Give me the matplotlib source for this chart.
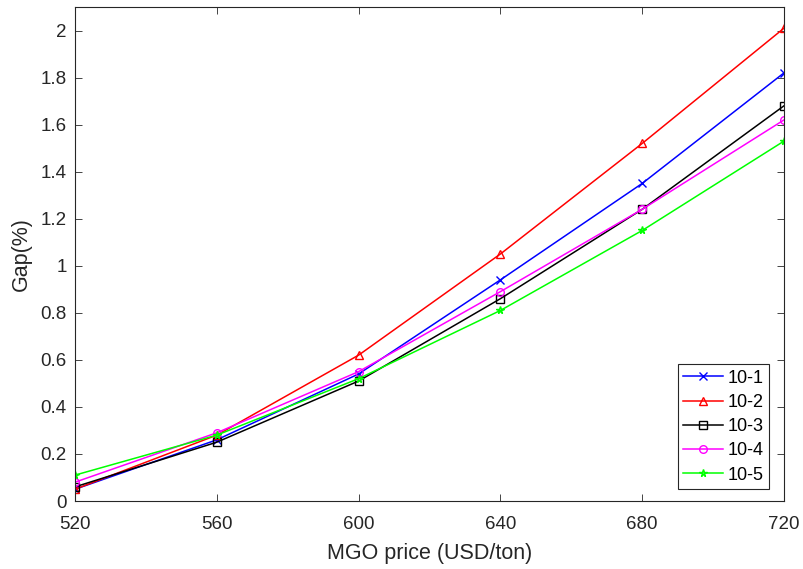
import numpy as np
import matplotlib
matplotlib.use("Agg")
import matplotlib.pyplot as plt

plt.rcParams['font.family'] = ['Liberation Sans', 'DejaVu Sans']

# data
mgo_price = [520, 560, 600, 640, 680, 720]
gap_10_1 = [0.05, 0.26, 0.54, 0.94, 1.35, 1.82]
gap_10_2 = [0.05, 0.28, 0.62, 1.05, 1.52, 2.01]
gap_10_3 = [0.06, 0.25, 0.51, 0.86, 1.24, 1.68]
gap_10_4 = [0.08, 0.29, 0.55, 0.89, 1.24, 1.62]
gap_10_5 = [0.11, 0.28, 0.52, 0.81, 1.15, 1.53]

series_names = ['10-1', '10-2', '10-3', '10-4', '10-5']
series_values = [gap_10_1, gap_10_2, gap_10_3, gap_10_4, gap_10_5]
colors = ['#0000ff', '#ff0000', '#000000', '#ff00ff', '#00ff00']
markers = ['x', '^', 's', 'o', '*']

fig = plt.figure(figsize=(8.04, 5.69), dpi=100)
# axes box: x 75..784 px, y 7..501 px
ax = fig.add_axes([75 / 804, 1 - 501 / 569, 709 / 804, 494 / 569])

for name, vals, c, m in zip(series_names, series_values, colors, markers):
    ax.plot(mgo_price, vals, color=c, marker=m, markersize=5.5, markerfacecolor='none',
            markeredgecolor=c, linewidth=1.1, label=name)

ax.set_xlim(520, 720)
ax.set_ylim(0, 2.1)
ax.set_xticks(mgo_price)
yt = np.arange(0, 2.01, 0.2)
ax.set_yticks(yt)
ax.set_yticklabels(['%g' % round(v, 1) for v in yt])
ax.tick_params(direction='in', top=True, right=True, labelsize=13.5, length=5,
               width=0.6, colors='#262626')
ax.tick_params(axis='x', pad=11)
ax.tick_params(axis='y', pad=6)
for s in ax.spines.values():
    s.set_linewidth(0.8)
    s.set_color('#262626')

ax.set_xlabel('MGO price (USD/ton)', fontsize=15.5, color='#262626', labelpad=7)
ax.set_ylabel('Gap(%)', fontsize=15.5, color='#262626', labelpad=6)

# legend box roughly at x 679..769, y 369..489 px
leg = ax.legend(loc='lower right', fontsize=13, fancybox=False, framealpha=1,
                edgecolor='#262626', handlelength=2.2, borderpad=0.3,
                labelspacing=0.4, handletextpad=0.25, borderaxespad=0,
                bbox_to_anchor=(769 / 804, 1 - 489 / 569),
                bbox_transform=fig.transFigure)
leg.get_frame().set_linewidth(0.8)

fig.savefig('out.png', dpi=100)
